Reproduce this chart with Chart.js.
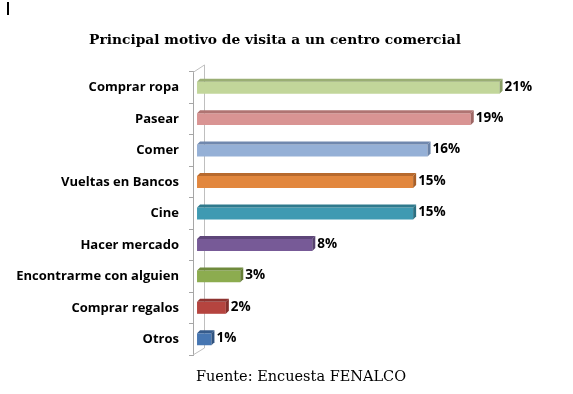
<!DOCTYPE html>
<html><head><meta charset="utf-8">
<script src="https://cdn.jsdelivr.net/npm/chart.js@4"></script>
<style>
html,body{margin:0;padding:0;background:#fff;}
#wrap{position:relative;width:573px;height:394px;overflow:hidden;}
#src{position:absolute;left:0;width:602px;top:368px;text-align:center;font:14.5px "DejaVu Serif";color:#000;white-space:nowrap;}
#mark{position:absolute;left:7px;top:2px;width:2px;height:13px;background:#000;}
</style></head><body>
<div id="wrap"><canvas id="c" width="573" height="394"></canvas><div id="mark"></div><div id="src"></div></div>
<script>
const categories = ['Comprar ropa','Pasear','Comer','Vueltas en Bancos','Cine','Hacer mercado','Encontrarme con alguien','Comprar regalos','Otros'];
const values = [21,19,16,15,15,8,3,2,1];
const valueLabels = ['21%','19%','16%','15%','15%','8%','3%','2%','1%'];
const frontColors = ['#C2D69A','#D99493','#95B0D6','#E2873E','#3F9AB2','#775A97','#8CAC4F','#B5443F','#4676B2'];
const topColors   = ['#9AAE74','#B07472','#7088AE','#B86A2E','#2F7A8D','#5E4679','#6F8A3C','#8E3330','#355B8C'];
const sideColors  = ['#8A9E66','#9E6664','#6A82A6','#A85F28','#2C6F80','#55406E','#657E36','#822E2B','#30537F'];
const titleText = 'Principal motivo de visita a un centro comercial';
const sourceText = 'Fuente: Encuesta FENALCO';

document.getElementById('src').textContent = sourceText;

const DEPTH = 3;
const threeD = {
  id: 'threeD',
  beforeDatasetsDraw(chart) {
    const ctx = chart.ctx, a = chart.chartArea;
    const bx = a.left + 11, dy = 7;
    ctx.save();
    ctx.strokeStyle = '#BFBFBF';
    ctx.lineWidth = 1;
    ctx.beginPath();
    ctx.moveTo(a.left, a.top + 0.5); ctx.lineTo(bx + 0.5, a.top - dy);
    ctx.lineTo(bx + 0.5, a.bottom - dy);
    ctx.lineTo(a.left, a.bottom);
    ctx.stroke();
    ctx.restore();
  },
  afterDatasetsDraw(chart) {
    const ctx = chart.ctx;
    const meta = chart.getDatasetMeta(0);
    ctx.save();
    meta.data.forEach((bar, i) => {
      const p = bar.getProps(['x','y','base','height'], true);
      const left = p.base, right = p.x, top = p.y - p.height/2, bottom = p.y + p.height/2;
      ctx.fillStyle = topColors[i];
      ctx.beginPath();
      ctx.moveTo(left, top); ctx.lineTo(left + DEPTH, top - DEPTH);
      ctx.lineTo(right + DEPTH, top - DEPTH); ctx.lineTo(right, top); ctx.closePath();
      ctx.fill();
      ctx.fillStyle = sideColors[i];
      ctx.beginPath();
      ctx.moveTo(right, top); ctx.lineTo(right + DEPTH, top - DEPTH);
      ctx.lineTo(right + DEPTH, bottom - DEPTH); ctx.lineTo(right, bottom); ctx.closePath();
      ctx.fill();
      ctx.fillStyle = '#000';
      ctx.font = 'bold 13.5px "Open Sans"';
      ctx.textAlign = 'left';
      ctx.textBaseline = 'middle';
      ctx.fillText(valueLabels[i], right + DEPTH + 2, p.y - 1);
    });
    ctx.restore();
  }
};

new Chart(document.getElementById('c'), {
  type: 'bar',
  data: {
    labels: categories,
    datasets: [{
      data: values,
      backgroundColor: frontColors,
      borderWidth: 0,
      categoryPercentage: 1,
      barPercentage: 0.38
    }]
  },
  options: {
    indexAxis: 'y',
    responsive: false,
    animation: false,
    events: [],
    layout: { padding: { left: 0, right: 23, top: 0, bottom: 39 } },
    plugins: {
      legend: { display: false },
      tooltip: { enabled: false },
      title: {
        display: true,
        text: titleText,
        color: '#000',
        font: { family: 'DejaVu Serif', size: 13.8, weight: 'bold' },
        padding: { top: 32, bottom: 23.4 }
      }
    },
    scales: {
      x: { display: false, min: -0.28, max: 24.5 },
      y: {
        afterFit(s) { s.width = 193; },
        grid: { offset: true, drawOnChartArea: false, tickLength: 4, color: '#A6A6A6' },
        border: { color: '#A6A6A6' },
        ticks: { color: '#000', padding: 10, font: { family: 'Open Sans', size: 13, weight: 'bold' } }
      }
    }
  },
  plugins: [threeD]
});
</script>
</body></html>
